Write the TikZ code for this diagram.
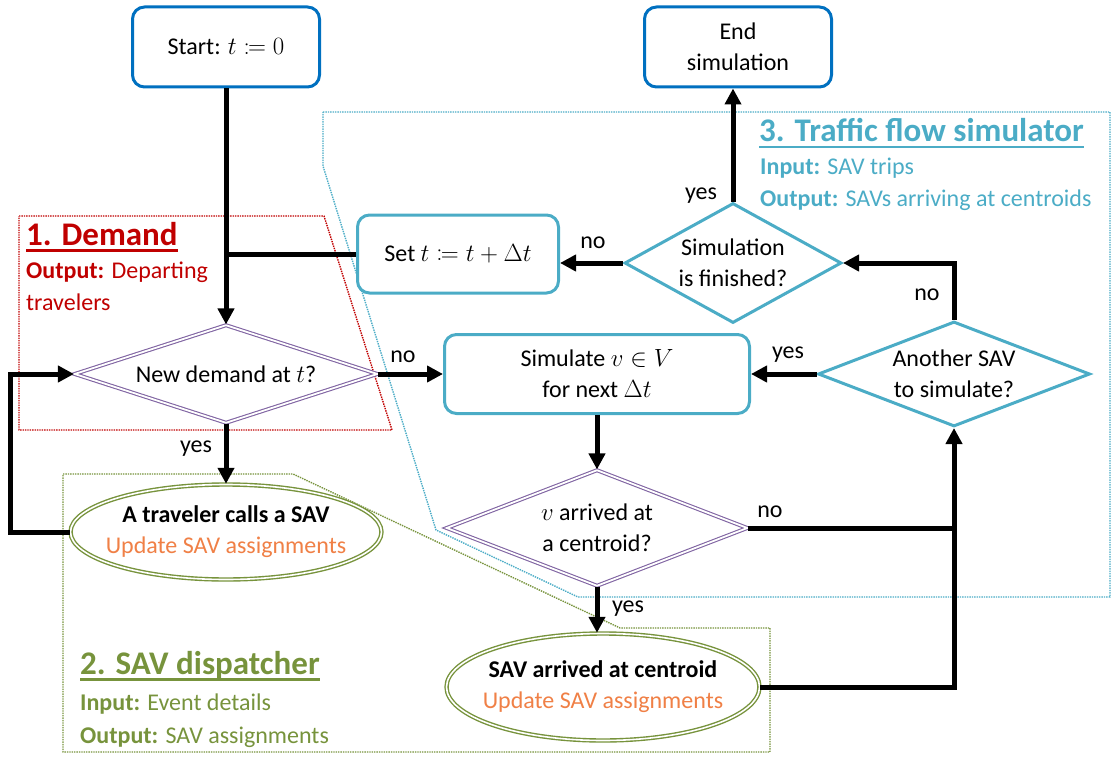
\documentclass[tikz,border=0pt]{standalone}
\usepackage{fontspec}
\setmainfont{Carlito}
\usepackage{mathtools}
\usetikzlibrary{shapes.geometric,arrows.meta}
\definecolor{sblue}{RGB}{0,112,192}
\definecolor{steal}{RGB}{75,172,198}
\definecolor{spurple}{RGB}{128,100,162}
\definecolor{sgreen}{RGB}{119,147,60}
\definecolor{sred}{RGB}{192,0,0}
\definecolor{sorange}{RGB}{240,128,70}
\newcommand{\myul}[1]{\setbox0\hbox{#1}\rlap{\rule[-6.5pt]{\wd0}{2.5pt}}\box0}
\begin{document}
\begin{tikzpicture}[x=1pt,y=-1pt,
  every node/.style={font=\fontsize{24}{31}\selectfont, inner sep=0pt},
  bluebox/.style={draw=sblue, line width=3pt, rounded corners=12pt, fill=white,
    minimum width=187pt, minimum height=80pt, align=center},
  tealbox/.style={draw=steal, line width=3pt, rounded corners=12pt, fill=white, align=center},
  tealdia/.style={diamond, draw=steal, line width=3pt, fill=white, align=center},
  purpdia/.style={diamond, draw=spurple, line width=1.1pt, double=white, double distance=1.8pt,
    fill=white, align=center},
  greenell/.style={ellipse, draw=sgreen, line width=1.4pt, double=white, double distance=1.6pt,
    fill=white, align=center, inner xsep=-12pt, inner ysep=0pt},
  conn/.style={line width=5pt, -{Triangle[length=16pt,width=16pt]}},
  thickline/.style={line width=5pt},
  region/.style={densely dotted, line width=1.4pt},
  title/.style={anchor=base west, font=\fontsize{33}{40}\selectfont\bfseries},
  sub/.style={anchor=base west}]
\useasboundingbox (0,0) rectangle (1114,757);

% regions
\draw[region, draw=sred] (19,216) -- (324,216) -- (392,430) -- (19,430) -- cycle;
\draw[region, draw=steal] (323,112) -- (1110,112) -- (1110,597) -- (578,597) -- (436,530) -- (323,166) -- cycle;
\draw[region, draw=sgreen] (63,474) -- (293,474) -- (620,628) -- (770,628) -- (770,752) -- (63,752) -- cycle;

% region texts
\node[title, text=sred] (t1) at (26,245) {\myul{1. Demand}};
\node[sub, text=sred] (t1a) at (26,278) {\textbf{Output:} Departing};
\node[sub, text=sred] (t1b) at (26,310) {travelers};
\node[title, text=sgreen] (t2) at (80,674) {\myul{2. SAV dispatcher}};
\node[sub, text=sgreen] (t2a) at (80,710) {\textbf{Input:} Event details};
\node[sub, text=sgreen] (t2b) at (80,743) {\textbf{Output:} SAV assignments};
\node[title, text=steal] (t3) at (759,142) {\myul{3. Traffic flow simulator}};
\node[sub, text=steal] (t3a) at (760,175) {\textbf{Input:} SAV trips};
\node[sub, text=steal] (t3b) at (760,206) {\textbf{Output:} SAVs arriving at centroids};

% nodes
\node[bluebox] (start) at (226,47) {Start: $t \coloneqq 0$};
\node[bluebox] (end) at (738,47) {End\\simulation};
\node[tealbox, minimum width=201pt, minimum height=78pt] (set) at (458,254) {Set $t \coloneqq t + \Delta t$};
\node[tealdia, minimum width=217pt, minimum height=120pt, aspect=1.81] (fin) at (733,263) {Simulation\\is finished?};
\node[purpdia, minimum width=303pt, minimum height=98pt, aspect=3.09] (nd) at (226,374) {New demand at $t$?};
\node[tealbox, minimum width=305pt, minimum height=79pt] (sim) at (597,374) {Simulate $v \in V$\\for next $\Delta t$};
\node[tealdia, minimum width=272pt, minimum height=105pt, aspect=2.59] (another) at (954,374) {Another SAV\\to simulate?};
\node[purpdia, minimum width=301pt, minimum height=116pt, aspect=2.6] (varr) at (597,528) {$v$ arrived at\\a centroid?};
\node[greenell, minimum width=311pt, minimum height=95pt] (trav) at (226,532) {\textbf{A traveler calls a SAV}\\\textcolor{sorange}{Update SAV assignments}};
\node[greenell, minimum width=313pt, minimum height=107pt] (sav) at (603,687) {\textbf{SAV arrived at centroid}\\\textcolor{sorange}{Update SAV assignments}};

% connectors
\draw[conn] (start.south) -- (nd.north);
\draw[thickline] (set.west) -- (set.west -| nd.north);
\draw[conn] (nd.east) -- (sim.west);
\draw[conn] (nd.south) -- (trav.north);
\draw[conn] (trav.west) -- ++(-59,0) |- (nd.west);
\draw[conn] (sim.south) -- (varr.north);
\draw[conn] (varr.south) -- (varr.south |- sav.north);
\draw[thickline] (varr.east) -- (varr.east -| another.south);
\draw[conn] (sav.east) -| (another.south);
\draw[conn] (another.west) -- (sim.east);
\draw[conn] (another.north) |- (fin.east);
\draw[conn] (fin.west) -- (fin.west -| set.east);
\draw[conn] (fin.north) -- (fin.north |- end.south);

% labels
\node (l1) at (403,357) {no};
\node (l2) at (196,449) {yes};
\node (l3) at (593,243) {no};
\node (l4) at (701,196) {yes};
\node (l5) at (927,295) {no};
\node (l6) at (788,355) {yes};
\node (l7) at (770,512) {no};
\node (l8) at (628,609) {yes};
\end{tikzpicture}
\end{document}
